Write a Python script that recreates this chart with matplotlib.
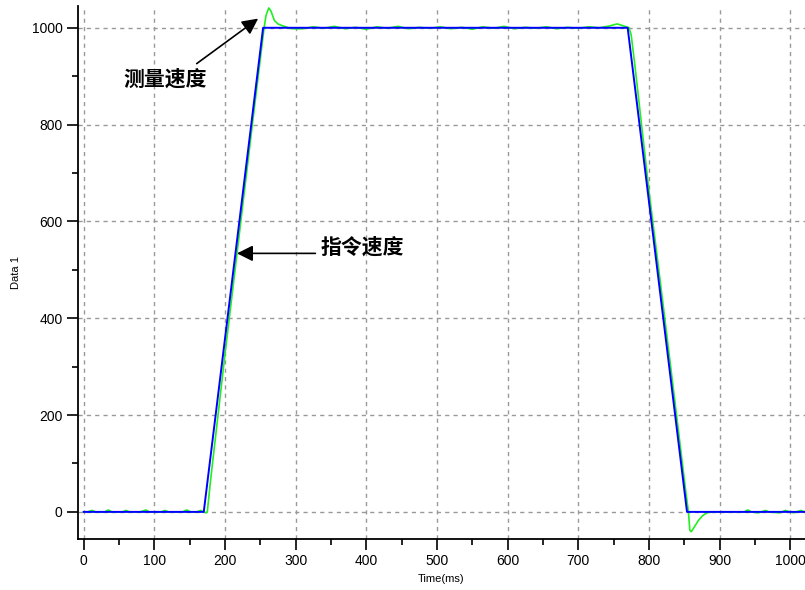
import matplotlib
matplotlib.use("Agg")
import matplotlib.pyplot as plt
from matplotlib.ticker import MultipleLocator

plt.rcParams["font.family"] = ["Liberation Sans", "Noto Sans CJK SC", "DejaVu Sans"]

# command speed (blue), piecewise-linear breakpoints
cmd_t = [0, 170, 254, 770, 854, 1021]
cmd_v = [0, 0, 1000, 1000, 0, 0]

meas_t = [0, 5, 12, 17, 30, 35, 40, 55, 60, 65, 80, 88, 93, 110, 115, 120,
          140, 146, 151, 160, 166, 170, 173, 175,
          180, 200, 220, 240, 250, 255, 258, 262, 265, 270, 275, 280, 290, 295,
          310, 325, 340, 355, 370, 385, 400, 415, 430, 445, 460, 475, 490, 505,
          520, 535, 550, 565, 580, 595, 610, 625, 640, 655, 670, 685, 700, 715,
          730, 745, 755, 762, 768, 772,
          775, 780, 800, 820, 840, 852, 856, 858, 860, 864, 870, 876, 882, 890,
          935, 940, 945, 955, 965, 970, 985, 993, 1000, 1005, 1015, 1021]
meas_v = [0, 0, 3, 0, 0, 4, 0, 0, 3, 0, 0, 4, 0, 0, 3, 0,
          0, 4, 0, 0, 3, 0, -2, 0,
          70, 325, 570, 815, 935, 995, 1025, 1041, 1035, 1015, 1008, 1005, 1000, 998,
          998, 1002, 999, 1003, 998, 1001, 997, 1002, 999, 1003, 998, 1001, 999, 1002,
          998, 1001, 997, 1002, 999, 1003, 998, 1001, 999, 1002, 998, 1001, 999, 1002,
          1000, 1004, 1008, 1005, 1002, 1000,
          985, 925, 665, 430, 190, 45, 0, -38, -41, -32, -18, -8, -2, 0,
          0, 4, 0, -2, 3, 0, -2, 3, 0, -2, 3, 0]

fig = plt.figure(figsize=(8.05, 5.9), dpi=100)
ax = fig.add_axes([78 / 805, 1 - 539 / 590, 1 - 78 / 805, 533 / 590])

ax.plot(meas_t, meas_v, color="#22ee22", lw=1.2, zorder=3)
ax.plot(cmd_t, cmd_v, color="#0000ff", lw=1.4, zorder=4)

ax.set_xlim(-8, 1021)
ax.set_ylim(-56, 1045)
ax.xaxis.set_major_locator(MultipleLocator(100))
ax.xaxis.set_minor_locator(MultipleLocator(50))
ax.yaxis.set_major_locator(MultipleLocator(200))
ax.yaxis.set_minor_locator(MultipleLocator(100))

ax.grid(True, which="major", color="#999999", linestyle=(0, (3, 3)), lw=1)
for s in ("top", "right"):
    ax.spines[s].set_visible(False)
for s in ("left", "bottom"):
    ax.spines[s].set_linewidth(1.3)

ax.tick_params(which="major", direction="out", length=8, width=1.2, labelsize=10, pad=3)
ax.tick_params(which="minor", direction="out", length=4, width=1.2)

ax.set_xlabel("Time(ms)", fontsize=8, labelpad=4)
ax.set_ylabel("Data 1", fontsize=8, labelpad=8)

ann_font = ["Noto Sans CJK SC", "DejaVu Sans"]
arrow = dict(arrowstyle="-|>", color="black", lw=1.2,
             mutation_scale=24, shrinkA=0, shrinkB=0)

ax.text(116, 894, "测量速度", ha="center", va="center", fontsize=15,
        fontweight="bold", family=ann_font)
ax.annotate("", xy=(247, 1019), xytext=(160, 926), arrowprops=arrow)

ax.text(394, 547, "指令速度", ha="center", va="center", fontsize=15,
        fontweight="bold", family=ann_font)
ax.annotate("", xy=(217, 534), xytext=(328, 534), arrowprops=arrow)

fig.savefig("out.png", dpi=100)
